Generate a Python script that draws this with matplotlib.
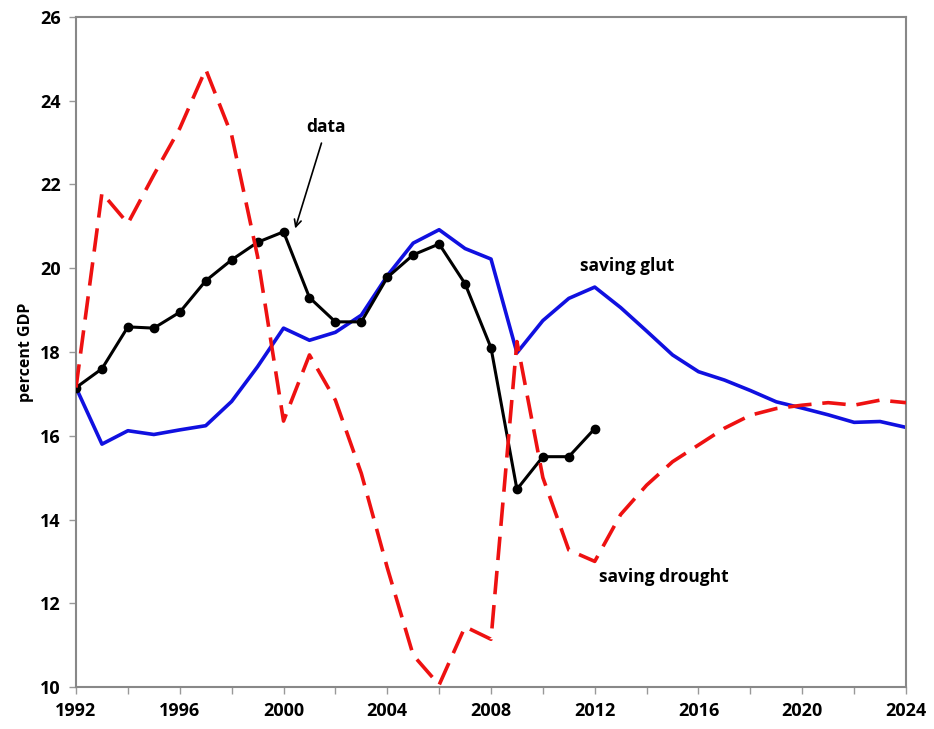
import numpy as np
import matplotlib.pyplot as plt

plt.rcParams['font.family'] = ['Open Sans', 'DejaVu Sans']

years_data = list(range(1992, 2013))
data = [17.15, 17.6, 18.6, 18.57, 18.95, 19.7, 20.2, 20.62, 20.87, 19.3, 18.72,
        18.72, 19.78, 20.32, 20.58, 19.63, 18.1, 14.72, 15.5, 15.5, 16.17]

years_model = list(range(1992, 2025))
glut = [17.15, 15.8, 16.12, 16.03, 16.14, 16.24, 16.82, 17.65, 18.57, 18.28, 18.47,
        18.88, 19.82, 20.6, 20.92, 20.47, 20.22, 17.98, 18.75, 19.28, 19.55,
        19.06, 18.5, 17.93, 17.53, 17.33, 17.08, 16.81, 16.66, 16.5, 16.32,
        16.34, 16.2]
drought = [17.15, 21.8, 21.07, 22.23, 23.34, 24.75, 23.18, 20.28, 16.35, 17.93, 16.85,
           15.1, 12.85, 10.76, 10.05, 11.44, 11.14, 18.25, 15.0, 13.27, 13.0,
           14.12, 14.82, 15.38, 15.78, 16.18, 16.49, 16.65, 16.73, 16.79, 16.73,
           16.85, 16.79]

xtick_years = list(range(1992, 2025, 2))
xtick_labels = [str(y) if (y - 1992) % 4 == 0 else '' for y in xtick_years]
ytick_vals = list(range(10, 27, 2))

fig = plt.figure(figsize=(9.34, 7.29), dpi=100)
ax = fig.add_axes([0.0814, 0.0576, 0.8886, 0.9191])

ax.plot(years_model, glut, color='#1010e0', lw=2.6, zorder=2)
ax.plot(years_data, data, color='black', lw=2.2, marker='o', ms=6, zorder=3)
red, = ax.plot(years_model, drought, color='#ee1111', lw=2.6, zorder=4)
red.set_dashes([6.5, 3])

ax.set_xlim(1992, 2024)
ax.set_ylim(10, 26)
ax.set_xticks(xtick_years)
ax.set_xticklabels(xtick_labels)
ax.set_yticks(ytick_vals)
ax.tick_params(direction='out', length=5, width=1, color='#999999', labelsize=13, pad=6)
for lab in ax.get_xticklabels() + ax.get_yticklabels():
    lab.set_fontweight('bold')
for s in ax.spines.values():
    s.set_color('#888888')
    s.set_linewidth(1.5)

ax.set_ylabel('percent GDP', fontsize=11.5, fontweight='bold', labelpad=4)

ax.annotate('data', xy=(2000.45, 20.95), xytext=(2001.65, 23.15),
            fontsize=12.5, fontweight='bold', ha='center', va='bottom',
            arrowprops=dict(arrowstyle='->', color='black', lw=1.2, shrinkA=3, shrinkB=0))
ax.text(2013.25, 20.05, 'saving glut', fontsize=12.5, fontweight='bold', ha='center', va='center')
ax.text(2014.65, 12.62, 'saving drought', fontsize=12.5, fontweight='bold', ha='center', va='center')

plt.savefig('out.png', dpi=100)
